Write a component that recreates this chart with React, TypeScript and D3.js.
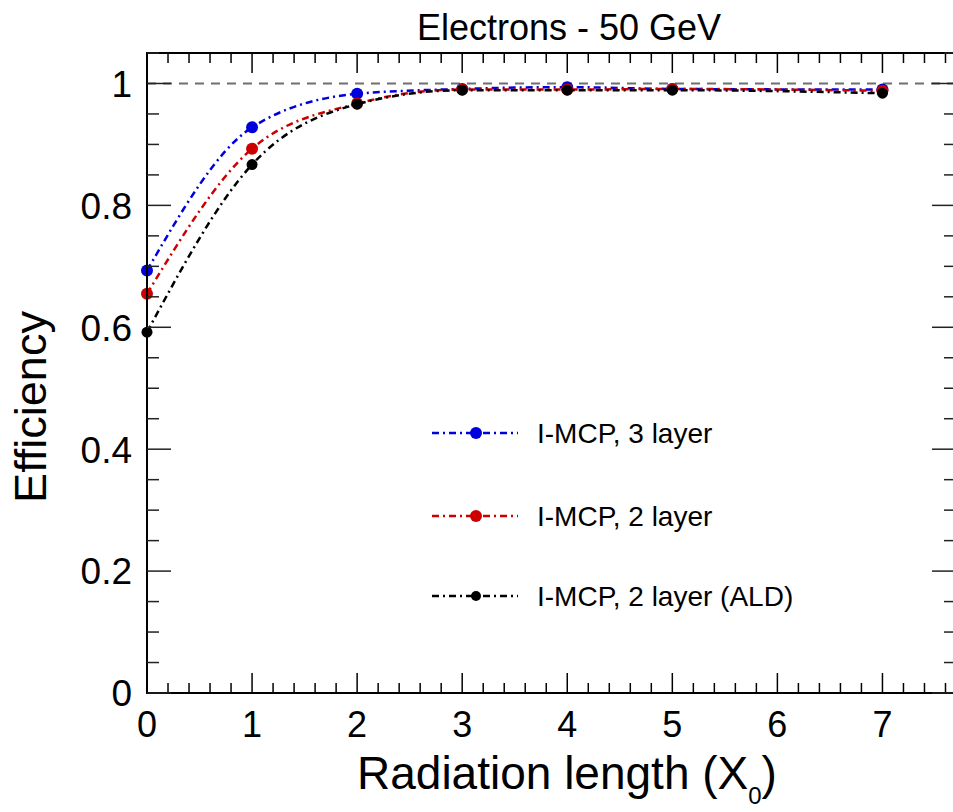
import React from "react";
import * as d3 from "d3";

const xValues = [0, 1, 2, 3, 4, 5, 7];
const blueValues = [0.693, 0.928, 0.983, 0.991, 0.994, 0.991, 0.99];
const redValues = [0.655, 0.893, 0.967, 0.99, 0.99, 0.991, 0.988];
const blackValues = [0.592, 0.867, 0.966, 0.989, 0.989, 0.989, 0.984];
const seriesNames = ["I-MCP, 3 layer", "I-MCP, 2 layer", "I-MCP, 2 layer (ALD)"];
const seriesColors = ["#0000dd", "#cc0000", "#000000"];
const xMajorTicks = [0, 1, 2, 3, 4, 5, 6, 7];
const yMajorTicks = [0, 0.2, 0.4, 0.6, 0.8, 1];
const yTickLabels = ["0", "0.2", "0.4", "0.6", "0.8", "1"];
const titleText = "Electrons - 50 GeV";
const yTitle = "Efficiency";

const W = 953;
const H = 812;
const L = 147, R = 956, T = 53, B = 693;
const FONT = "'Liberation Sans', Arial, Helvetica, sans-serif";
const DASHDOT = "7 4 2 4";

export default function App() {
  const x = d3.scaleLinear().domain([0, 7.7]).range([L, R]);
  const y = d3.scaleLinear().domain([0, 1.05]).range([B, T]);

  const xMinor = d3.range(0, 7.7 + 1e-9, 0.2).map((v) => +v.toFixed(2));
  const yMinor = d3.range(0, 1.05 + 1e-9, 0.05).map((v) => +v.toFixed(3));
  const isMajorX = (v: number) => Math.abs(v - Math.round(v)) < 1e-6;
  const isMajorY = (v: number) => Math.abs(v * 5 - Math.round(v * 5)) < 1e-6;

  const line = d3
    .line<[number, number]>()
    .x((d) => x(d[0]))
    .y((d) => y(d[1]))
    .curve(d3.curveMonotoneX);

  const series = [blueValues, redValues, blackValues];
  const radii = [6, 6, 5.5];
  const legendY = [433, 516, 596];

  return (
    <svg
      width={W}
      height={H}
      style={{ position: "absolute", left: 0, top: 0, background: "#fff" }}
      fontFamily={FONT}
    >
      <rect x={0} y={0} width={W} height={H} fill="#fff" />
      <line
        x1={L}
        x2={R}
        y1={y(1)}
        y2={y(1)}
        stroke="#6e6e6e"
        strokeWidth={2}
        strokeDasharray="9 7"
      />
      {series.map((vals, i) => {
        const pts = xValues.map((xv, j) => [xv, vals[j]] as [number, number]);
        return (
          <g key={i}>
            <path
              d={line(pts) || ""}
              fill="none"
              stroke={seriesColors[i]}
              strokeWidth={2.5}
              strokeDasharray={DASHDOT}
            />
            {pts.map((p, j) => (
              <circle key={j} cx={x(p[0])} cy={y(p[1])} r={radii[i]} fill={seriesColors[i]} />
            ))}
          </g>
        );
      })}
      <rect x={L} y={T} width={R - L} height={B - T} fill="none" stroke="#000" strokeWidth={2} />
      {xMinor.map((v, i) => {
        const len = isMajorX(v) ? 20 : 10;
        return (
          <g key={"xt" + i} stroke="#000" strokeWidth={1.5}>
            <line x1={x(v)} x2={x(v)} y1={B} y2={B - len} />
            <line x1={x(v)} x2={x(v)} y1={T} y2={T + len} />
          </g>
        );
      })}
      {yMinor.map((v, i) => {
        const len = isMajorY(v) ? 24 : 12;
        return (
          <g key={"yt" + i} stroke="#222" strokeWidth={1.5}>
            <line x1={L} x2={L + len} y1={y(v)} y2={y(v)} />
            <line x1={R} x2={R - len} y1={y(v)} y2={y(v)} />
          </g>
        );
      })}
      {xMajorTicks.map((v) => (
        <text key={"xl" + v} x={x(v)} y={737} fontSize={36} textAnchor="middle" fill="#000">
          {String(v)}
        </text>
      ))}
      {yMajorTicks.map((v, i) => (
        <text
          key={"yl" + i}
          x={132}
          y={y(v)}
          dy="0.36em"
          fontSize={37}
          textAnchor="end"
          fill="#000"
        >
          {yTickLabels[i]}
        </text>
      ))}
      <text x={569} y={40} fontSize={36} textAnchor="middle" fill="#000">
        {titleText}
      </text>
      <text x={357} y={789} fontSize={46} textAnchor="start" fill="#000">
        Radiation length (X
        <tspan fontSize={24} dy={15}>0</tspan>
        <tspan dy={-15}>)</tspan>
      </text>
      <text
        transform={`translate(46, 407) rotate(-90)`}
        fontSize={45}
        textAnchor="middle"
        fill="#000"
      >
        {yTitle}
      </text>
      {seriesNames.map((name, i) => (
        <g key={"lg" + i}>
          <line
            x1={432}
            x2={518}
            y1={legendY[i]}
            y2={legendY[i]}
            stroke={seriesColors[i]}
            strokeWidth={2.5}
            strokeDasharray={DASHDOT}
          />
          <circle cx={476} cy={legendY[i]} r={i === 2 ? 5 : 6} fill={seriesColors[i]} />
          <text x={537} y={legendY[i]} dy="0.36em" fontSize={28} fill="#000">
            {name}
          </text>
        </g>
      ))}
    </svg>
  );
}
